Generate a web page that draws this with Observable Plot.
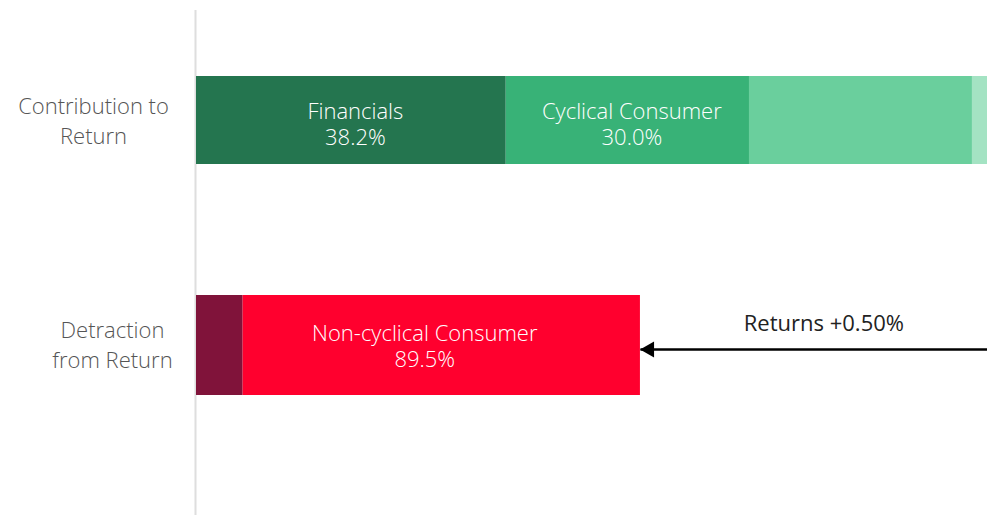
<!DOCTYPE html>
<html><head><meta charset="utf-8">
<script src="https://cdn.jsdelivr.net/npm/d3@7"></script>
<script src="https://cdn.jsdelivr.net/npm/@observablehq/plot@0.6"></script>
<style>body{margin:0;background:#fff;overflow:hidden} svg{display:block}</style>
</head><body><div id="chart"></div>
<script>
// Rows (y categories) and their tick labels
const rows = ["Contribution to Return", "Detraction from Return"];
const rowLabels = ["Contribution to\nReturn", "Detraction\nfrom Return"];

// Contribution segments (share of total contribution, %)
const contribSectors = ["Financials", "Cyclical Consumer", "Industrials", "Technology"];
const contribShares = [38.2, 30.0, 27.5, 4.3];
const contribColors = ["#24754f", "#38b277", "#6acf9d", "#a4e3c3"];

// Detraction segments (share of total detraction, %)
const detractSectors = ["Basic Materials", "Non-cyclical Consumer"];
const detractShares = [10.5, 89.5];
const detractColors = ["#80133a", "#ff002e"];

// Totals in absolute return (%)
const contribTotal = 1.105;
const detractTotal = 0.605;
const netReturn = 0.50;
const xView = 1.078; // visible part of the axis

const labelled = ["Financials", "Cyclical Consumer", "Non-cyclical Consumer"];

const data = [
  ...contribSectors.map((s, i) => ({row: rows[0], sector: s, share: contribShares[i], value: contribShares[i] / 100 * contribTotal})),
  ...detractSectors.map((s, i) => ({row: rows[1], sector: s, share: detractShares[i], value: detractShares[i] / 100 * detractTotal}))
];
const arrowData = [{row: rows[1], from: contribTotal, to: detractTotal, label: `Returns +${netReturn.toFixed(2)}%`}];

const font = "'Open Sans', Lato, sans-serif";
const segLabel = d => labelled.includes(d.sector) ? `${d.sector}\n${d.share.toFixed(1)}%` : null;

const chart = Plot.plot({
  width: 987,
  height: 515,
  marginLeft: 196,
  marginRight: 0,
  marginTop: 10,
  marginBottom: 0,
  style: {fontFamily: font, fontSize: "22px", fontWeight: 300, background: "#fff"},
  x: {domain: [0, xView], axis: null},
  y: {domain: rows, range: [69, 395], paddingInner: 0.5575, paddingOuter: 0, axis: null},
  color: {domain: [...contribSectors, ...detractSectors], range: [...contribColors, ...detractColors]},
  marks: [
    Plot.ruleX([0], {stroke: "#dedede", strokeWidth: 2, dx: -1}),
    Plot.barX(data.filter(d => d.row === rows[0]), Plot.stackX({x: "value", y: "row", fill: "sector", insetTop: 6, insetBottom: 6, clip: true})),
    Plot.barX(data.filter(d => d.row === rows[1]), Plot.stackX({x: "value", y: "row", fill: "sector", clip: true})),
    Plot.text(data.filter(d => d.row === rows[0]), Plot.stackX({
      x: "value", y: "row", text: segLabel,
      fill: "white", fontSize: 22, lineHeight: 1.2, dx: 4, dy: 3
    })),
    Plot.text(data.filter(d => d.row === rows[1]), Plot.stackX({
      x: "value", y: "row", text: segLabel,
      fill: "white", fontSize: 22, lineHeight: 1.2, dx: -17, dy: 0
    })),
    Plot.text([rows[0]], {y: d => d, frameAnchor: "left", dx: -103, dy: -1, text: () => rowLabels[0], textAnchor: "middle", fill: "#555", fontSize: 22, lineHeight: 1.33}),
    Plot.text([rows[1]], {y: d => d, frameAnchor: "left", dx: -84, dy: -2, text: () => rowLabels[1], textAnchor: "middle", fill: "#555", fontSize: 22, lineHeight: 1.33}),
    Plot.link(arrowData, {x1: "from", x2: "to", y1: "row", y2: "row", stroke: "#000", strokeWidth: 2.5, dy: 4, clip: true}),
    Plot.dot(arrowData, {x: "to", y: "row", symbol: "triangle", r: 6, rotate: -90, fill: "#000", stroke: null, dx: 9, dy: 4}),
    Plot.text(arrowData, {x: d => (d.from + d.to) / 2, y: "row", text: "label", fill: "#222", fontSize: 22, fontWeight: 400, dy: -22})
  ]
});
document.getElementById("chart").append(chart);
</script>
</body></html>
